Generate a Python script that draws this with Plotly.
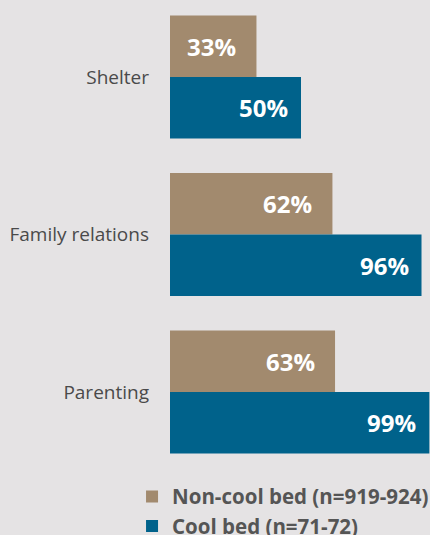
import plotly.graph_objects as go

categories = ["Shelter", "Family relations", "Parenting"]
non_cool = [33, 62, 63]
cool = [50, 96, 99]
series_names = ["Non-cool bed (n=919-924)", "Cool bed (n=71-72)"]

TAN = "#a28a6e"
BLUE = "#00628b"
BG = "#e5e3e4"

fig = go.Figure()
fig.add_trace(go.Bar(y=categories, x=non_cool, orientation="h", name=series_names[0],
                     marker=dict(color=TAN, line=dict(width=0)), hoverinfo="x+y"))
fig.add_trace(go.Bar(y=categories, x=cool, orientation="h", name=series_names[1],
                     marker=dict(color=BLUE, line=dict(width=0)), hoverinfo="x+y"))

bargap = 0.22
half = (1 - bargap) / 4
annotations = []
for i, cat in enumerate(categories):
    for vals, off, pad in ((non_cool, -half, 18), (cool, half, 11)):
        annotations.append(dict(
            x=vals[i], y=i + off, xref="x", yref="y", text=f"{vals[i]}%",
            xanchor="right", yanchor="middle", xshift=-pad, showarrow=False,
            font=dict(family="Open Sans", size=24, color="white", weight="bold"),
        ))

fig.update_layout(
    width=430, height=535,
    margin=dict(l=170, r=0, t=0, b=65, autoexpand=False),
    paper_bgcolor=BG, plot_bgcolor=BG,
    barmode="group", bargap=bargap, bargroupgap=0,
    annotations=annotations,
    xaxis=dict(range=[0, 99.24], visible=False, fixedrange=True),
    yaxis=dict(type="category", categoryorder="array", categoryarray=categories,
               range=[2.495, -0.489], showgrid=False, zeroline=False, showline=False,
               ticks="", ticklabelstandoff=20, fixedrange=True,
               tickfont=dict(family="Open Sans", size=19, color="#4a4a4a")),
    showlegend=True,
    legend=dict(orientation="v", traceorder="normal", x=-0.146, xanchor="left",
                y=-0.014, yanchor="top", bgcolor="rgba(0,0,0,0)",
                font=dict(family="Open Sans", size=20.5, color="#555555", weight="bold"),
                itemclick=False, itemdoubleclick=False, tracegroupgap=0),
)

fig.write_html("out.html", config={"displayModeBar": False},
               post_script="document.body.style.margin='0';document.body.style.background='" + BG + "';")
